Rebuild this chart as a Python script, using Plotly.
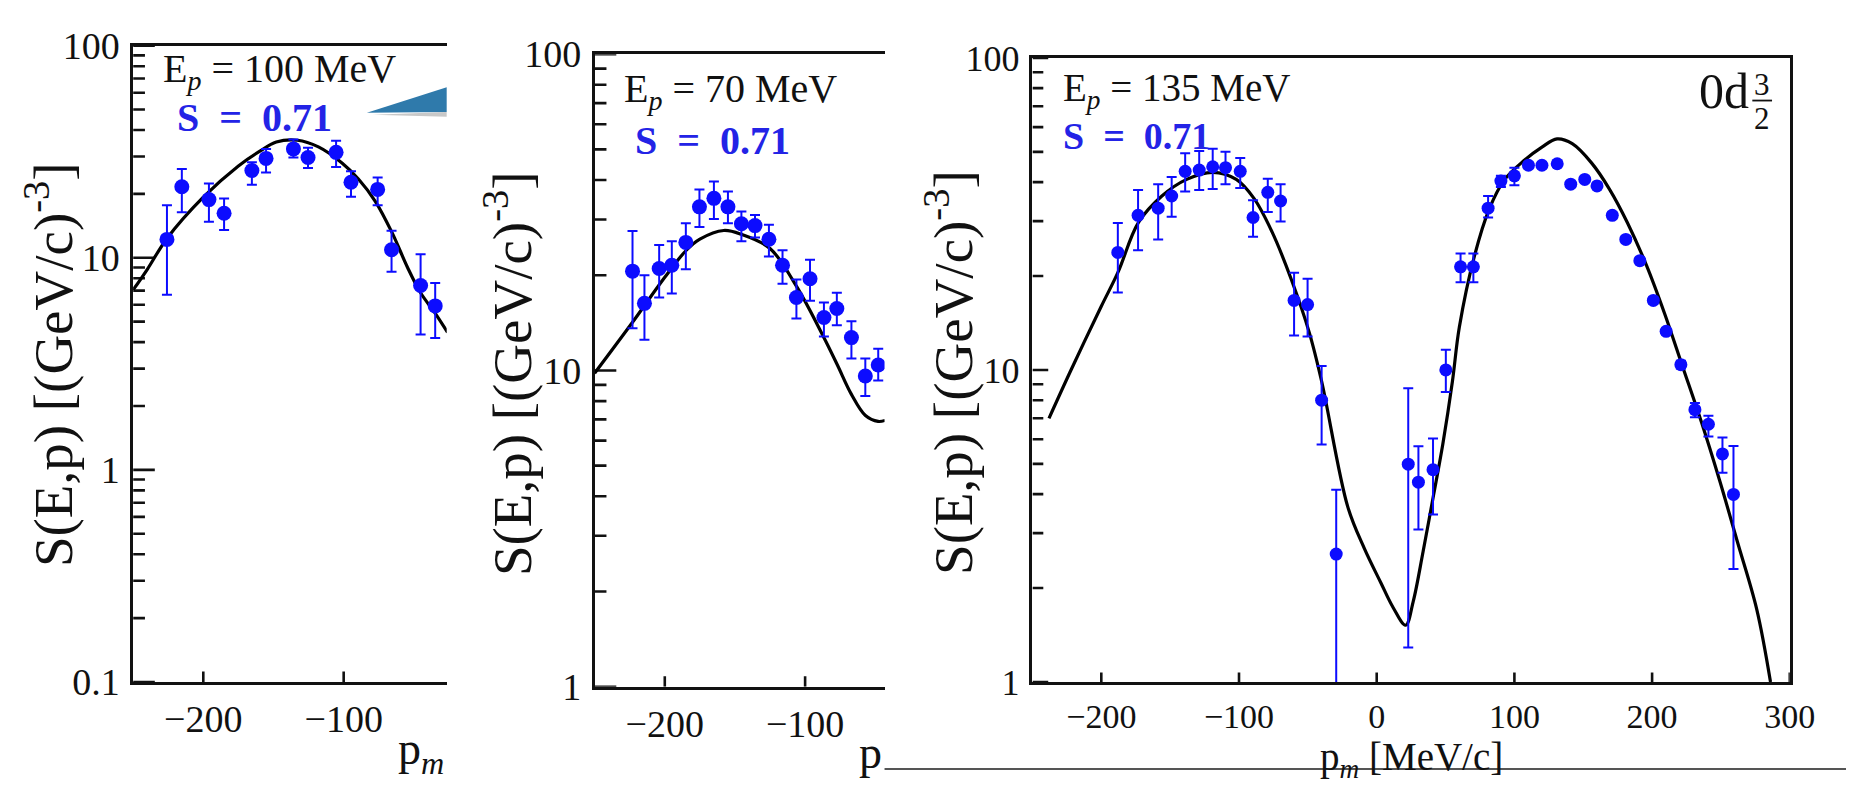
import plotly.graph_objects as go

W, H = 1872, 792

# ---------------- data ----------------
# Panel 1: Ep = 100 MeV
p1_x = [-225.9, -215.3, -196.0, -185.2, -165.4, -155.3, -135.8, -125.4, -105.4, -94.8, -75.8, -65.9, -45.2, -34.8]
p1_y = [12.2, 21.6, 18.8, 16.2, 25.8, 29.4, 32.6, 29.7, 31.4, 22.7, 21.0, 10.9, 7.4, 5.93]
p1_hi = [17.7, 26.2, 22.4, 19.0, 28.2, 32.6, 36.1, 33.0, 35.6, 25.6, 23.9, 13.4, 10.4, 7.6]
p1_lo = [6.7, 16.4, 14.8, 13.5, 22.1, 25.2, 29.7, 26.5, 26.8, 19.4, 17.7, 8.6, 4.35, 4.19]
c1_x = [-250, -240, -226, -200, -175, -160, -148, -133, -118, -101, -89.5, -77.6, -65.7, -54.5, -45, -35, -26]
c1_y = [7.05, 8.8, 12.3, 19.3, 27.1, 31.7, 35.1, 35.8, 33.3, 27.9, 23.5, 18.5, 13.2, 9.0, 6.8, 5.5, 4.45]

# Panel 2: Ep = 70 MeV
p2_x = [-223, -214.5, -204, -195, -185, -175.3, -165, -155, -145.4, -135.7, -125.8, -116.1, -106.2, -96.5, -86.6, -77.4, -67, -57.1, -47.9]
p2_y = [20.6, 16.3, 21.0, 21.5, 25.4, 32.9, 35.0, 32.9, 29.1, 28.7, 26.0, 21.5, 17.0, 19.5, 14.7, 15.7, 12.7, 9.6, 10.4]
p2_hi = [27.6, 20.0, 24.9, 25.6, 29.2, 37.3, 39.6, 36.8, 31.8, 31.0, 28.9, 24.0, 19.4, 22.4, 16.4, 17.6, 14.3, 10.9, 11.7]
p2_lo = [13.6, 12.5, 17.0, 17.5, 20.9, 28.4, 30.1, 29.2, 25.6, 26.3, 22.9, 18.8, 14.6, 16.6, 12.8, 13.9, 10.9, 8.3, 9.3]
c2_x = [-250, -223, -200, -185, -175, -158, -145, -125, -106, -87, -77, -67, -57, -48, -43]
c2_y = [9.8, 14.2, 19.7, 23.9, 26.0, 27.7, 26.9, 24.3, 18.4, 12.8, 10.4, 8.4, 7.2, 6.9, 6.95]

# Panel 3: Ep = 135 MeV
p3_x = [-188, -173.3, -158.7, -148.9, -139.1, -128.9, -119.1, -109.8, -99.1, -89.8, -79.1, -69.8, -60, -50.2, -40, -29.4,
        22.9, 30.3, 40.9, 50.2, 60.9, 70.2, 80.9, 90.2, 100, 110.2, 120, 131.1, 140.9, 151.1, 160, 171.1, 180.9, 191.1,
        200.9, 210.2, 220.9, 231.1, 240.9, 251.1, 259.1]
p3_y = [23.8, 31.3, 33.0, 36.1, 43.3, 43.7, 44.8, 44.5, 43.3, 30.8, 37.1, 34.8, 16.7, 16.2, 8.0, 2.57,
        4.99, 4.37, 4.79, 10.0, 21.4, 21.4, 33.0, 40.3, 41.9, 45.3, 45.3, 45.8, 39.4, 40.8, 38.9, 31.3, 26.2, 22.4,
        16.7, 13.3, 10.4, 7.46, 6.70, 5.38, 3.99]
p3_hi = [29.6, 37.7, 39.4, 41.5, 49.5, 50.3, 51.2, 50.0, 47.8, 35.0, 41.0, 39.4, 20.5, 19.6, 10.3, 4.13,
         8.73, 5.7, 6.03, 11.6, 23.6, 23.6, 36.1, 41.9, 44.5, 46.3, 46.3, 46.8, 40.2, 41.6, 39.7, 32.0, 26.8, 22.9,
         17.1, 13.6, 10.7, 7.83, 7.13, 6.08, 5.71]
p3_lo = [17.7, 24.2, 26.2, 31.0, 37.3, 37.7, 38.0, 39.4, 38.3, 26.7, 32.1, 29.9, 12.9, 12.8, 5.77, 0.5,
         1.29, 3.08, 3.44, 8.5, 19.1, 19.1, 30.8, 38.6, 39.1, 44.3, 44.3, 44.8, 38.6, 40.0, 38.1, 30.6, 25.6, 21.9,
         16.3, 13.0, 10.1, 7.06, 6.12, 4.68, 2.30]
c3_x = [-238, -222, -200, -188, -173, -156, -138, -119, -102, -89, -76, -62, -49, -40, -21, -9, 3, 12, 21, 26.5,
        33.7, 41, 48, 55, 60, 71, 82, 93, 107, 120, 131, 142, 156, 169, 182, 196, 209, 222, 236, 249, 262, 276, 286]
c3_y = [7.0, 10.0, 16.0, 20.5, 29.7, 36.1, 40.8, 43.0, 40.8, 35.4, 27.7, 19.5, 13.2, 9.2, 3.64, 2.68, 2.08, 1.73,
        1.52, 1.81, 2.62, 3.91, 5.78, 9.2, 13.7, 23.2, 33.0, 40.8, 46.9, 51.8, 55.0, 53.1, 46.1, 38.0, 29.7, 21.6,
        15.2, 10.3, 6.77, 4.43, 2.81, 1.71, 1.0]

y1_ticks = [0.1, 1, 10, 100]
y1_text = ["0.1", "1", "10", "100"]
y1_minor = [0.2, 0.3, 0.4, 0.5, 0.6, 0.7, 0.8, 0.9, 2, 3, 4, 5, 6, 7, 8, 9, 20, 30, 40, 50, 60, 70, 80, 90]
y23_ticks = [1, 10, 100]
y23_text = ["1", "10", "100"]
y23_minor = [2, 3, 4, 5, 6, 7, 8, 9, 20, 30, 40, 50, 60, 70, 80, 90]
x12_ticks = [-200, -100]
x12_text = ["\u2212200", "\u2212100"]
x3_ticks = [-200, -100, 0, 100, 200, 300]
x3_text = ["\u2212200", "\u2212100", "0", "100", "200", "300"]

# ---------------- styling ----------------
SERIF = "Liberation Serif"
AX = "#111111"
BLUE = "#0c0cff"
TXTBLUE = "#2323e6"

# plot-area boxes in pixels (left, right, top, bottom) and axis ranges
BOX1 = (135, 453, 26, 698)
BOX2 = (603, 897, 35, 703)
BOX3 = (1047, 1815, 39, 698)
XR1, YR1 = [-250, -26.6], [-1, 2]
XR2, YR2 = [-250, -43.4], [0, 2]
XR3, YR3 = [-250, 300], [0, 2]


def px(x):
    return x / W


def py(y):
    return 1 - y / H


def points(x, y, hi, lo, xa, ya, size):
    plus = [h - v for h, v in zip(hi, y)]
    minus = [v - l for v, l in zip(y, lo)]
    return go.Scatter(x=x, y=y, mode="markers", xaxis=xa, yaxis=ya, showlegend=False, hoverinfo="skip",
                      marker=dict(color=BLUE, size=size, line=dict(width=0)),
                      error_y=dict(type="data", symmetric=False, array=plus, arrayminus=minus,
                                   color=BLUE, thickness=2, width=5))


def curve(x, y, xa, ya):
    return go.Scatter(x=x, y=y, mode="lines", xaxis=xa, yaxis=ya, showlegend=False, hoverinfo="skip",
                      line=dict(color="black", width=3.2, shape="spline", smoothing=1.0))


def tickmarks(box, xr, yr, xa, ya, yvals, ylen, xvals, xlen):
    """Inward tick marks drawn as short line segments in the axes' own data units."""
    dx = (xr[1] - xr[0]) * ylen / (box[1] - box[0])
    dlog = (yr[1] - yr[0]) * xlen / (box[3] - box[2])
    xs, ys = [], []
    for v in yvals:
        xs += [xr[0], xr[0] + dx, None]
        ys += [v, v, None]
    y0 = 10 ** yr[0]
    y1 = 10 ** (yr[0] + dlog)
    for v in xvals:
        xs += [v, v, None]
        ys += [y0, y1, None]
    return go.Scatter(x=xs, y=ys, mode="lines", xaxis=xa, yaxis=ya, showlegend=False, hoverinfo="skip",
                      line=dict(color=AX, width=2.6), connectgaps=False)


fig = go.Figure()
fig.add_trace(tickmarks(BOX1, XR1, YR1, "x", "y", y1_ticks, 22, x12_ticks, 11))
fig.add_trace(tickmarks(BOX1, XR1, YR1, "x", "y", y1_minor, 12, [], 0))
fig.add_trace(tickmarks(BOX2, XR2, YR2, "x2", "y2", y23_ticks, 22, x12_ticks, 11))
fig.add_trace(tickmarks(BOX2, XR2, YR2, "x2", "y2", y23_minor, 12, [], 0))
fig.add_trace(tickmarks(BOX3, XR3, YR3, "x3", "y3", y23_ticks, 16, x3_ticks, 10))
fig.add_trace(tickmarks(BOX3, XR3, YR3, "x3", "y3", y23_minor, 11, [], 0))

fig.add_trace(curve(c1_x, c1_y, "x", "y"))
fig.add_trace(points(p1_x, p1_y, p1_hi, p1_lo, "x", "y", 15))
fig.add_trace(curve(c2_x, c2_y, "x2", "y2"))
fig.add_trace(points(p2_x, p2_y, p2_hi, p2_lo, "x2", "y2", 15))
fig.add_trace(curve(c3_x, c3_y, "x3", "y3"))
fig.add_trace(points(p3_x, p3_y, p3_hi, p3_lo, "x3", "y3", 13))


def xaxis(box, rng, tv, tt, anchor, fsize):
    return dict(domain=[px(box[0]), px(box[1])], range=rng, anchor=anchor, tickmode="array", tickvals=tv,
                ticktext=tt, ticks="", showline=True, linecolor=AX, linewidth=2.5, mirror=True,
                showgrid=False, zeroline=False, ticklabelstandoff=2,
                tickfont=dict(family=SERIF, size=fsize, color="#111"))


def yaxis(box, rng, tv, tt, anchor, mirror, fsize):
    return dict(domain=[py(box[3]), py(box[2])], range=rng, type="log", anchor=anchor, tickmode="array",
                tickvals=tv, ticktext=tt, ticks="", showline=True, linecolor=AX, linewidth=2.5, mirror=mirror,
                showgrid=False, zeroline=False, ticklabelstandoff=3,
                tickfont=dict(family=SERIF, size=fsize, color="#111"))


fig.update_layout(
    width=W, height=H, autosize=False, margin=dict(l=0, r=0, t=0, b=0, pad=0),
    paper_bgcolor="white", plot_bgcolor="white",
    xaxis=xaxis(BOX1, XR1, x12_ticks, x12_text, "y", 38),
    yaxis=yaxis(BOX1, YR1, y1_ticks, y1_text, "x", False, 38),
    xaxis2=xaxis(BOX2, XR2, x12_ticks, x12_text, "y2", 38),
    yaxis2=yaxis(BOX2, YR2, y23_ticks, y23_text, "x2", False, 38),
    xaxis3=xaxis(BOX3, XR3, x3_ticks, x3_text, "y3", 34),
    yaxis3=yaxis(BOX3, YR3, y23_ticks, y23_text, "x3", True, 36),
)

ann = []


def text(x, y, t, size, color="#111", xanchor="left", angle=0):
    ann.append(dict(x=px(x), y=py(y), xref="paper", yref="paper", text=t, showarrow=False,
                    xanchor=xanchor, yanchor="middle", textangle=angle, borderpad=0,
                    font=dict(family=SERIF, size=size, color=color)))


NB = "\u00a0"
ytitle = "S(E,p) [(GeV/c)<sup>-3</sup>]"
text(50, 363, ytitle, 55, xanchor="center", angle=-90)
text(515, 372, ytitle, 55, xanchor="center", angle=-90)
text(963, 371, ytitle, 55, xanchor="center", angle=-90)

text(164, 53, "E<sub><i>p</i></sub>" + NB + "=" + NB + "100" + NB + "MeV", 40)
text(178, 102, "<b>S" + NB * 2 + "=" + NB * 2 + "0.71</b>", 40, TXTBLUE)
text(632, 74, "E<sub><i>p</i></sub>" + NB + "=" + NB + "70" + NB + "MeV", 40)
text(643, 126, "<b>S" + NB * 2 + "=" + NB * 2 + "0.71</b>", 40, TXTBLUE)
text(1077, 73, "E<sub><i>p</i></sub>" + NB + "=" + NB + "135" + NB + "MeV", 39)
text(1077, 121, "<b>S" + NB * 2 + "=" + NB * 2 + "0.71</b>", 38, TXTBLUE)

text(1775, 74, "0d", 50, xanchor="right")
text(1787, 67, "3", 31, xanchor="center")
text(1787, 103, "2", 31, xanchor="center")

text(403, 772, "p<sub><i>m</i></sub>", 46)
text(870, 772, "p", 46)
text(1431, 780, "p<sub><i>m</i></sub>" + NB + "[MeV/c]", 39, xanchor="center")

fig.update_layout(annotations=ann)

shapes = [
    # fraction bar of 3/2
    dict(type="line", xref="paper", yref="paper", x0=px(1777), x1=px(1797), y0=py(84), y1=py(84),
         line=dict(color="#111", width=1.8)),
    # bottom rule under the right part
    dict(type="line", xref="paper", yref="paper", x0=px(897), x1=px(1872), y0=py(790), y1=py(790),
         line=dict(color="#555", width=2)),
    # shadow of callout wedge
    dict(type="path", xref="paper", yref="paper", layer="above",
         path="M %f %f L %f %f L %f %f Z" % (px(378), py(99), px(453), py(96), px(453), py(101)),
         fillcolor="#c8c8c8", line=dict(width=0)),
    # callout wedge
    dict(type="path", xref="paper", yref="paper", layer="above",
         path="M %f %f L %f %f L %f %f Z" % (px(372), py(97), px(453), py(70), px(453), py(96)),
         fillcolor="#2f7aab", line=dict(width=0)),
]
fig.update_layout(shapes=shapes)

fig.write_html("out.html", config={"displayModeBar": False, "responsive": False},
               post_script="document.body.style.margin='0';document.body.style.overflow='hidden';"
                           "document.documentElement.style.overflow='hidden';")
